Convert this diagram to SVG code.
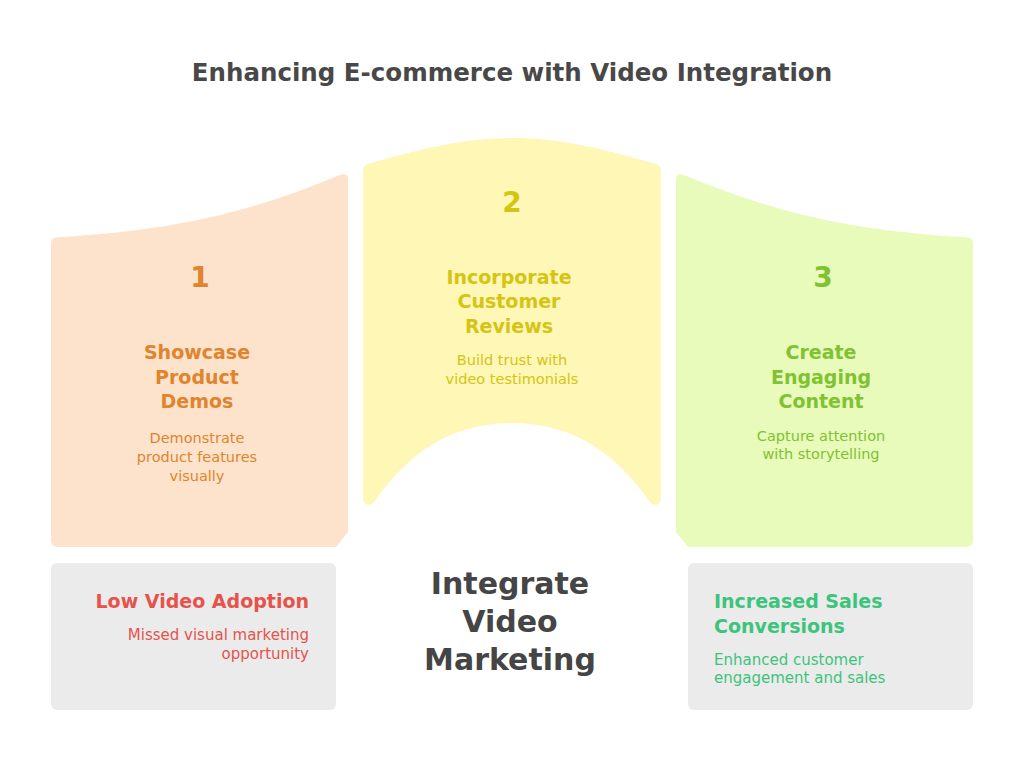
<svg xmlns="http://www.w3.org/2000/svg" width="1024" height="762" viewBox="0 0 1024 762">
<style>
text{font-family:"DejaVu Sans","Liberation Sans",sans-serif;}
.t{font-size:24.5px;font-weight:bold;fill:#484848;text-anchor:middle;}
.n{font-size:28px;font-weight:bold;text-anchor:middle;}
.h{font-size:19px;font-weight:bold;text-anchor:middle;}
.d{font-size:14.5px;text-anchor:middle;}
.c{font-size:30px;font-weight:bold;fill:#454545;text-anchor:middle;}
.o{fill:#E0842E;}
.y{fill:#D5C414;}
.g{fill:#80C232;}
.box{fill:#EBEBEB;}
</style>
<rect width="1024" height="762" fill="#FFFFFF"/>
<text class="t" x="512" y="81">Enhancing E-commerce with Video Integration</text>
<g id="step1">
<path d="M51,243 Q51,238 56,237.5 C180,230 250,212 340,175 Q348,172 348,180 L348,532 L336,547 L58,547 Q51,547 51,540 Z" fill="#FDE3CB"/>
<text class="n o" x="200" y="287">1</text>
<text class="h o" x="197" y="359">Showcase</text>
<text class="h o" x="197" y="384">Product</text>
<text class="h o" x="197" y="408">Demos</text>
<text class="d o" x="197" y="443">Demonstrate</text>
<text class="d o" x="197" y="462">product features</text>
<text class="d o" x="197" y="481">visually</text>
</g>
<g id="step2">
<path d="M363,171 Q363,166 368,164 C430,146 470,138 512,138 C554,138 594,146 656,164 Q661,166 661,171 L661,498 Q661,505 655,505 Q652,505 650,502 C620,460 580,423 512,423 C444,423 404,460 374,502 Q372,505 369,505 Q363,505 363,498 Z" fill="#FEF7B5"/>
<text class="n y" x="512" y="212">2</text>
<text class="h y" x="509" y="284">Incorporate</text>
<text class="h y" x="509" y="308">Customer</text>
<text class="h y" x="509" y="333">Reviews</text>
<text class="d y" x="512" y="365">Build trust with</text>
<text class="d y" x="512" y="384">video testimonials</text>
</g>
<g id="step3">
<path d="M973,243 Q973,238 968,237.5 C844,230 774,212 684,175 Q676,172 676,180 L676,532 L688,547 L966,547 Q973,547 973,540 Z" fill="#E8FBBA"/>
<text class="n g" x="823" y="287">3</text>
<text class="h g" x="821" y="359">Create</text>
<text class="h g" x="821" y="384">Engaging</text>
<text class="h g" x="821" y="408">Content</text>
<text class="d g" x="821" y="441">Capture attention</text>
<text class="d g" x="821" y="459">with storytelling</text>
</g>
<g id="current">
<rect class="box" x="51" y="563" width="285" height="147" rx="6"/>
<text x="309" y="608" text-anchor="end" font-size="19" font-weight="bold" fill="#E5534B">Low Video Adoption</text>
<text x="309" y="640" text-anchor="end" font-size="15" fill="#E5534B">Missed visual marketing</text>
<text x="309" y="659" text-anchor="end" font-size="15" fill="#E5534B">opportunity</text>
</g>
<g id="center">
<text class="c" x="510" y="594">Integrate</text>
<text class="c" x="510" y="632">Video</text>
<text class="c" x="510" y="670">Marketing</text>
</g>
<g id="result">
<rect class="box" x="688" y="563" width="285" height="147" rx="6"/>
<text x="714" y="608" font-size="19" font-weight="bold" fill="#3CC47C">Increased Sales</text>
<text x="714" y="633" font-size="19" font-weight="bold" fill="#3CC47C">Conversions</text>
<text x="714" y="665" font-size="15" fill="#3CC47C">Enhanced customer</text>
<text x="714" y="683" font-size="15" fill="#3CC47C">engagement and sales</text>
</g>
<g id="connectors"></g>
</svg>
